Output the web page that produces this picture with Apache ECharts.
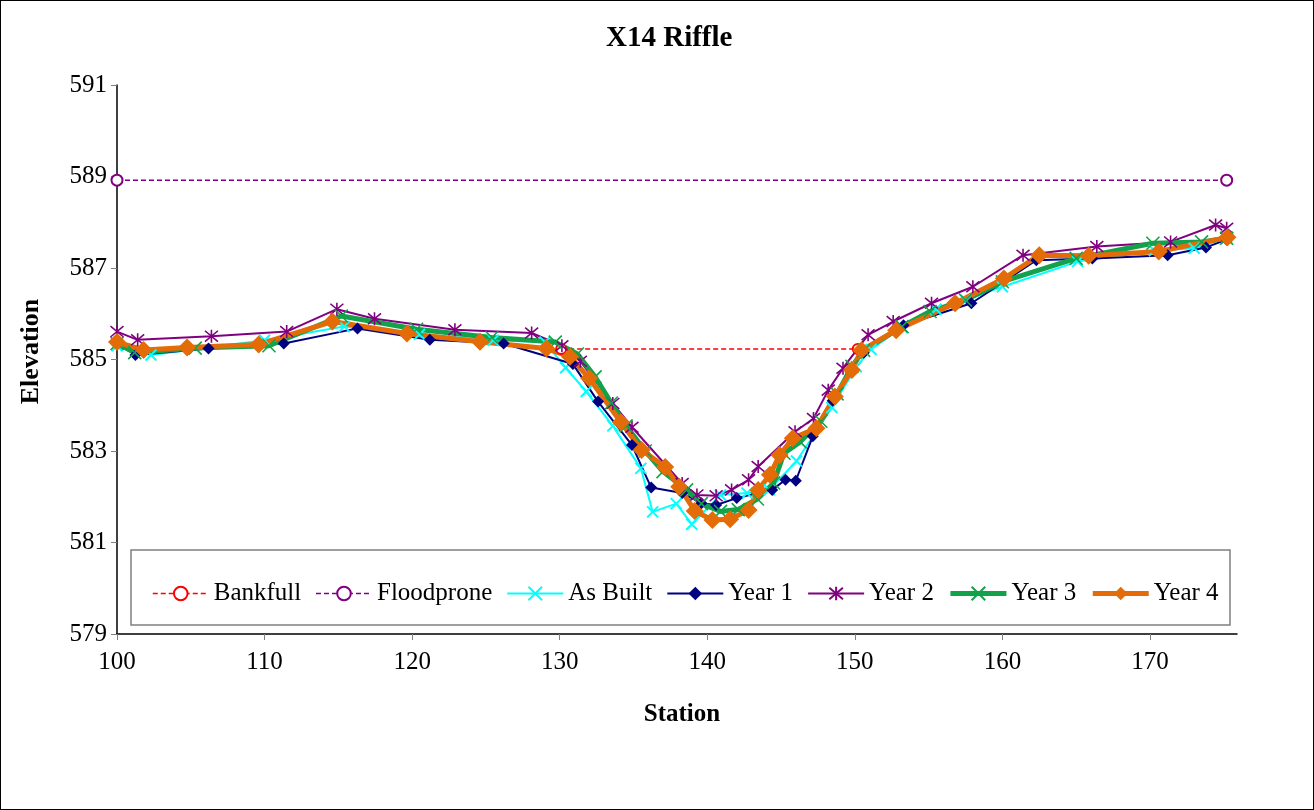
<!DOCTYPE html>
<html>
<head>
<meta charset="utf-8">
<script src="https://cdn.jsdelivr.net/npm/echarts@6/dist/echarts.min.js"></script>
<style>
html,body{margin:0;padding:0;background:#fff;}
#wrap{position:absolute;left:0;top:0;width:1314px;height:810px;box-sizing:border-box;border:1px solid #000;}
#chart{width:1314px;height:810px;}
</style>
</head>
<body>
<div id="chart"></div>
<div id="wrap"></div>
<script>
// ---- data ----
const seriesNames = ["Bankfull", "Floodprone", "As Built", "Year 1", "Year 2", "Year 3", "Year 4"];
const xTicks = [100, 110, 120, 130, 140, 150, 160, 170];
const yTicks = [579, 581, 583, 585, 587, 589, 591];

const bankfullX = [130.1, 150.2];
const bankfullY = [585.23, 585.23];

const floodproneX = [100.0, 175.2];
const floodproneY = [588.92, 588.92];

const asBuiltX = [100.0, 102.3, 110.0, 115.4, 120.5, 125.5, 129.0, 130.4, 131.8, 133.6, 135.5, 136.3, 137.9, 138.95, 140.9, 142.7, 144.2, 146.05, 148.45, 150.1, 151.1, 153.2, 155.5, 157.5, 160.0, 165.1, 170.3, 173.0, 175.2];
const asBuiltY = [585.30, 585.10, 585.42, 585.72, 585.55, 585.42, 585.38, 584.82, 584.30, 583.55, 582.62, 581.67, 581.85, 581.40, 582.04, 582.08, 582.15, 582.78, 583.95, 584.84, 585.22, 585.70, 586.10, 586.30, 586.59, 587.14, 587.38, 587.43, 587.65];

const year1X = [100.0, 101.25, 106.2, 111.3, 116.3, 121.2, 126.2, 130.9, 132.6, 134.9, 136.2, 138.3, 139.6, 140.6, 142.0, 144.4, 145.3, 146.0, 147.15, 148.5, 149.8, 150.6, 153.3, 157.9, 162.3, 166.1, 171.2, 173.8, 175.2];
const year1Y = [585.35, 585.10, 585.24, 585.35, 585.68, 585.43, 585.35, 584.90, 584.08, 583.13, 582.20, 582.08, 581.86, 581.82, 581.97, 582.15, 582.37, 582.35, 583.32, 584.10, 584.80, 585.15, 585.75, 586.23, 587.17, 587.21, 587.28, 587.45, 587.62];

const year2X = [100.0, 101.4, 106.4, 111.5, 114.9, 117.45, 122.9, 128.1, 130.15, 131.4, 133.6, 134.9, 138.3, 139.3, 140.6, 141.65, 142.8, 143.45, 145.95, 147.2, 148.2, 149.2, 150.9, 152.6, 155.2, 158.0, 161.4, 166.4, 171.4, 174.45, 175.2];
const year2Y = [585.61, 585.43, 585.51, 585.61, 586.10, 585.89, 585.65, 585.58, 585.30, 584.96, 584.04, 583.52, 582.29, 582.04, 582.02, 582.15, 582.37, 582.66, 583.42, 583.71, 584.33, 584.81, 585.54, 585.83, 586.23, 586.59, 587.28, 587.47, 587.57, 587.94, 587.87];

const year3X = [100.0, 101.2, 105.3, 110.3, 115.2, 120.3, 125.4, 129.7, 131.2, 132.4, 133.5, 134.5, 135.8, 137.0, 138.6, 139.6, 140.9, 142.1, 143.4, 144.5, 145.2, 146.3, 147.7, 148.8, 149.8, 150.6, 153.2, 155.1, 157.5, 160.0, 165.0, 170.2, 173.5, 175.2];
const year3Y = [585.35, 585.15, 585.25, 585.30, 585.95, 585.66, 585.48, 585.38, 585.12, 584.62, 584.05, 583.55, 583.00, 582.55, 582.15, 581.85, 581.68, 581.72, 581.95, 582.30, 582.95, 583.20, 583.65, 584.25, 584.85, 585.20, 585.72, 586.05, 586.30, 586.70, 587.21, 587.54, 587.57, 587.65];

const year4X = [100.0, 101.8, 104.75, 109.6, 114.6, 119.65, 124.6, 129.1, 130.7, 132.0, 134.15, 135.55, 137.15, 138.1, 139.15, 140.35, 141.55, 142.8, 143.45, 144.25, 144.9, 145.8, 147.4, 148.65, 149.8, 150.45, 152.8, 156.8, 160.1, 162.5, 165.85, 170.6, 175.25];
const year4Y = [585.38, 585.21, 585.26, 585.33, 585.83, 585.57, 585.39, 585.24, 585.06, 584.59, 583.63, 583.02, 582.65, 582.22, 581.69, 581.49, 581.51, 581.71, 582.15, 582.48, 582.91, 583.28, 583.50, 584.19, 584.77, 585.20, 585.64, 586.23, 586.77, 587.28, 587.27, 587.36, 587.67];

// ---- build ----
function zip(xs, ys) { return xs.map((x, i) => [x, ys[i]]); }
const FONT = "'Liberation Serif', 'Times New Roman', serif";
const X_SYM = 'path://M0,0L10,10M10,0L0,10';
const STAR_SYM = 'path://M0,0L10,10M10,0L0,10M5,-1L5,11';
const legendLineWidths = [1.5, 1.5, 2, 2, 2, 5, 5];

const chart = echarts.init(document.getElementById('chart'), null, {renderer: 'canvas'});
chart.setOption({
  animation: false,
  backgroundColor: '#fff',
  title: {
    text: 'X14 Riffle',
    left: 601, top: 19,
    textStyle: {fontFamily: FONT, fontWeight: 'bold', fontSize: 29, color: '#000'}
  },
  grid: {left: 117, right: 77, top: 85, bottom: 176, containLabel: false},
  graphic: [{
    type: 'rect', z: 0,
    shape: {x: 131, y: 550, width: 1099, height: 75},
    style: {fill: '#fff', stroke: '#808080', lineWidth: 1.5}
  }],
  legend: {
    data: seriesNames.map((n, i) => ({name: n, lineStyle: {width: legendLineWidths[i]}})),
    left: 147, top: 576,
    itemWidth: 56, itemHeight: 17, itemGap: 14,
    z: 10,
    textStyle: {fontFamily: FONT, fontSize: 25, color: '#000', padding: [0, 0, 0, 0]}
  },
  xAxis: {
    type: 'value', min: 100, max: 175.9, interval: 10,
    name: 'Station', nameLocation: 'middle', nameGap: 68,
    nameTextStyle: {fontFamily: FONT, fontWeight: 'bold', fontSize: 25, color: '#000', padding: [0, 0, 0, 10]},
    axisLine: {show: true, lineStyle: {color: '#000', width: 1.5}},
    axisTick: {show: true, inside: false, length: 6, customValues: xTicks, lineStyle: {color: '#808080'}},
    axisLabel: {customValues: xTicks, margin: 16, fontFamily: FONT, fontSize: 25, color: '#000'},
    splitLine: {show: false}
  },
  yAxis: {
    type: 'value', min: 579, max: 591, interval: 2,
    name: 'Elevation', nameLocation: 'middle', nameGap: 73, nameRotate: 90,
    nameTextStyle: {fontFamily: FONT, fontWeight: 'bold', fontSize: 26, color: '#000', padding: [0, 0, 0, 16]},
    axisLine: {show: true, lineStyle: {color: '#000', width: 1.5}},
    axisTick: {show: true, inside: false, length: 6, lineStyle: {color: '#808080'}},
    axisLabel: {margin: 10, fontFamily: FONT, fontSize: 25, color: '#000'},
    splitLine: {show: false}
  },
  series: [
    {name: 'Bankfull', type: 'line', data: zip(bankfullX, bankfullY),
      symbol: 'emptyCircle', symbolSize: 10, showSymbol: true,
      lineStyle: {color: '#FF0000', width: 1.5, type: [5, 3]},
      itemStyle: {color: '#FF0000', borderColor: '#FF0000', borderWidth: 1.2}},
    {name: 'Floodprone', type: 'line', data: zip(floodproneX, floodproneY),
      symbol: 'emptyCircle', symbolSize: 11,
      lineStyle: {color: '#800080', width: 1.5, type: [5, 3]},
      itemStyle: {color: '#800080', borderColor: '#800080', borderWidth: 1.2}},
    {name: 'As Built', type: 'line', data: zip(asBuiltX, asBuiltY),
      symbol: X_SYM, symbolSize: 11,
      lineStyle: {color: '#00FFFF', width: 2},
      itemStyle: {color: 'rgba(0,0,0,0)', borderColor: '#00FFFF', borderWidth: 2}},
    {name: 'Year 1', type: 'line', data: zip(year1X, year1Y),
      symbol: 'diamond', symbolSize: 12,
      lineStyle: {color: '#000080', width: 2},
      itemStyle: {color: '#000080', borderColor: '#000080', borderWidth: 0}},
    {name: 'Year 2', type: 'line', data: zip(year2X, year2Y),
      symbol: STAR_SYM, symbolSize: 13,
      lineStyle: {color: '#800080', width: 2},
      itemStyle: {color: 'rgba(0,0,0,0)', borderColor: '#800080', borderWidth: 1.6}},
    {name: 'Year 3', type: 'line', data: zip(year3X, year3Y),
      symbol: X_SYM, symbolSize: 13,
      lineStyle: {color: '#13A24B', width: 5},
      itemStyle: {color: 'rgba(0,0,0,0)', borderColor: '#13A24B', borderWidth: 1.6}},
    {name: 'Year 4', type: 'line', data: zip(year4X, year4Y),
      symbol: 'diamond', symbolSize: 18,
      lineStyle: {color: '#E36C09', width: 5},
      itemStyle: {color: '#E36C09', borderColor: '#E36C09', borderWidth: 0}}
  ]
});
</script>
</body>
</html>
